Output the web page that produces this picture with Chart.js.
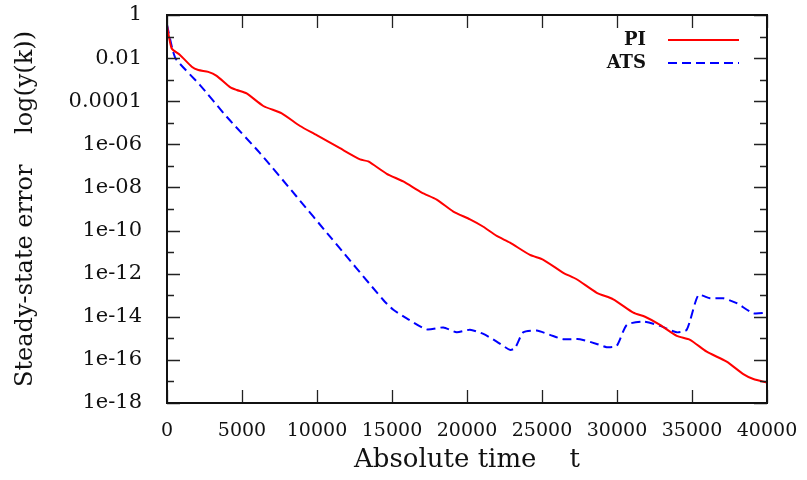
<!DOCTYPE html>
<html>
<head>
<meta charset="utf-8">
<script src="https://cdn.jsdelivr.net/npm/chart.js@4.4.1/dist/chart.umd.min.js"></script>
<style>
    html, body { margin: 0; padding: 0; background: #fff; }
    canvas { display: block; }
</style>
</head>
<body>
<canvas id="errorChart" width="807" height="480"></canvas>
<script>
// Dados (tempo absoluto e erro em regime)
const piTime = [0, 313, 867, 1650, 2090, 2750, 3310, 4200, 4650, 5310, 6420, 7650, 8870, 9980,
    11530, 12870, 13420, 14650, 15750, 16980, 17980, 19090, 20200, 21090, 21980, 22870,
    24200, 25090, 26420, 27310, 28650, 29750, 31090, 31870, 32870, 33980, 34870, 35980,
    37310, 38420, 39090, 40000];
const piError = [3.2e-1, 2.8e-2, 1.4e-2, 4.0e-3, 2.8e-3, 2.3e-3, 1.5e-3, 4.5e-4, 3.3e-4, 2.3e-4,
    6.0e-5, 2.75e-5, 7.1e-6, 2.7e-6, 6.6e-7, 2.0e-7, 1.6e-7, 4.3e-8, 1.9e-8, 5.8e-9, 2.75e-9,
    7.6e-10, 3.3e-10, 1.5e-10, 5.6e-11, 2.75e-11, 7.4e-12, 4.4e-12, 1.1e-12, 5.5e-13, 1.3e-13,
    6.5e-14, 1.55e-14, 1.0e-14, 4.2e-15, 1.3e-15, 8.5e-16, 2.4e-16, 8.3e-17, 2.2e-17, 1.3e-17,
    8.9e-18];

const atsTime = [0, 350, 600, 2200, 3980, 6200, 8650, 10870, 14420, 15090, 15980, 17310, 18420,
    19310, 20200, 21090, 21980, 22870, 23200, 23750, 24650, 25530, 26420, 27530, 28650, 29310,
    29980, 30650, 31750, 32870, 33980, 34650, 35420, 36200, 37090, 37980, 39090, 40000];
const atsError = [3.5e-1, 2.8e-2, 8.9e-3, 5.6e-4, 1.9e-5, 3.9e-7, 3.7e-9, 5.2e-11, 6.0e-14,
    2.1e-14, 8.5e-15, 2.6e-15, 3.2e-15, 1.9e-15, 2.5e-15, 1.6e-15, 7.1e-16, 2.9e-16, 3.5e-16,
    1.9e-15, 2.3e-15, 1.45e-15, 9.1e-16, 9.1e-16, 5.5e-16, 3.9e-16, 4.5e-16, 4.2e-15, 6.0e-15,
    3.8e-15, 1.9e-15, 2.5e-15, 1.0e-13, 7.2e-14, 7.2e-14, 4.3e-14, 1.45e-14, 1.55e-14];

// Expoentes das marcas do eixo Y (rótulo só nos pares)
const yExponents = [-18, -17, -16, -15, -14, -13, -12, -11, -10, -9, -8, -7, -6, -5, -4, -3, -2, -1, 0];
const xTicks = [0, 5000, 10000, 15000, 20000, 25000, 30000, 35000, 40000];

const fontFamily = '"DejaVu Serif", "Liberation Serif", serif';

function yLabel(exp) {
    if (exp % 2 !== 0) return '';
    if (exp === 0) return '1';
    if (exp === -2) return '0.01';
    if (exp === -4) return '0.0001';
    const n = -exp;
    return '1e-' + (n < 10 ? '0' + n : n);
}

// Moldura e marcas internas (estilo gnuplot)
const framePlugin = {
    id: 'frame',
    afterDatasetsDraw(chart) {
        const ctx = chart.ctx;
        const a = chart.chartArea;
        const xs = chart.scales.x;
        const ys = chart.scales.y;
        ctx.save();
        ctx.strokeStyle = '#222';
        ctx.lineWidth = 1.3;
        ctx.beginPath();
        xTicks.forEach(v => {
            const px = Math.round(xs.getPixelForValue(v)) + 0.5;
            ctx.moveTo(px, a.bottom); ctx.lineTo(px, a.bottom - 13);
            ctx.moveTo(px, a.top); ctx.lineTo(px, a.top + 13);
        });
        yExponents.forEach(e => {
            const py = Math.round(ys.getPixelForValue(Math.pow(10, e))) + 0.5;
            const len = e % 2 === 0 ? 13 : 7;
            ctx.moveTo(a.left, py); ctx.lineTo(a.left + len, py);
            ctx.moveTo(a.right, py); ctx.lineTo(a.right - len, py);
        });
        ctx.stroke();
        ctx.lineWidth = 2;
        ctx.strokeStyle = '#111';
        ctx.strokeRect(a.left, a.top, a.right - a.left, a.bottom - a.top);
        ctx.restore();
    }
};

// Legenda dentro da área, texto à esquerda da linha
const legendPlugin = {
    id: 'insideLegend',
    afterDraw(chart) {
        const ctx = chart.ctx;
        const a = chart.chartArea;
        ctx.save();
        ctx.font = 'bold 18px ' + fontFamily;
        ctx.textAlign = 'right';
        ctx.textBaseline = 'middle';
        chart.data.datasets.forEach((ds, i) => {
            const y = a.top + 25 + i * 23;
            ctx.fillStyle = '#111';
            ctx.fillText(ds.label, a.right - 121, y);
            ctx.strokeStyle = ds.borderColor;
            ctx.lineWidth = ds.borderWidth;
            ctx.setLineDash(ds.borderDash || []);
            ctx.beginPath();
            ctx.moveTo(a.right - 99, y);
            ctx.lineTo(a.right - 28, y);
            ctx.stroke();
        });
        ctx.restore();
    }
};

const ctx = document.getElementById('errorChart').getContext('2d');

const data = {
    datasets: [{
        label: 'PI',
        data: piTime.map((t, i) => ({ x: t, y: piError[i] })),
        borderColor: '#ff0000',
        borderWidth: 2,
        pointRadius: 0,
        tension: 0.2,
        fill: false
    }, {
        label: 'ATS',
        data: atsTime.map((t, i) => ({ x: t, y: atsError[i] })),
        borderColor: '#0000ff',
        borderWidth: 2,
        borderDash: [9, 5],
        pointRadius: 0,
        tension: 0.2,
        fill: false
    }]
};

const config = {
    type: 'line',
    data: data,
    plugins: [framePlugin, legendPlugin],
    options: {
        responsive: false,
        animation: false,
        layout: { padding: { top: 15, right: 40, left: 0, bottom: 0 } },
        plugins: {
            legend: { display: false },
            tooltip: { enabled: false }
        },
        scales: {
            x: {
                type: 'linear',
                min: 0,
                max: 40000,
                afterBuildTicks: scale => { scale.ticks = xTicks.map(v => ({ value: v })); },
                afterFit: scale => {
                    scale.height = 77;
                    scale.paddingLeft = 0;
                    scale.paddingRight = 0;
                },
                grid: { display: false, drawTicks: false },
                border: { display: false },
                ticks: {
                    color: '#111',
                    padding: 17,
                    maxRotation: 0,
                    autoSkip: false,
                    font: { family: fontFamily, size: 19 },
                    callback: v => String(v)
                },
                title: {
                    display: true,
                    text: 'Absolute time    t',
                    color: '#111',
                    font: { family: fontFamily, size: 26 },
                    padding: { top: 0, bottom: 4 }
                }
            },
            y: {
                type: 'logarithmic',
                min: 1e-18,
                max: 1,
                afterBuildTicks: scale => {
                    scale.ticks = yExponents.map(e => ({ value: Math.pow(10, e) }));
                },
                afterFit: scale => {
                    scale.width = 167;
                    scale.paddingTop = 0;
                    scale.paddingBottom = 0;
                },
                grid: { display: false, drawTicks: false },
                border: { display: false },
                ticks: {
                    color: '#111',
                    padding: 25,
                    autoSkip: false,
                    font: { family: fontFamily, size: 21 },
                    callback: (v) => yLabel(Math.round(Math.log10(v)))
                },
                title: {
                    display: true,
                    text: 'Steady-state error    log(y(k))',
                    color: '#111',
                    font: { family: fontFamily, size: 24 },
                    padding: { top: 11, bottom: 0 }
                }
            }
        }
    }
};

const errorChart = new Chart(ctx, config);
</script>
</body>
</html>
